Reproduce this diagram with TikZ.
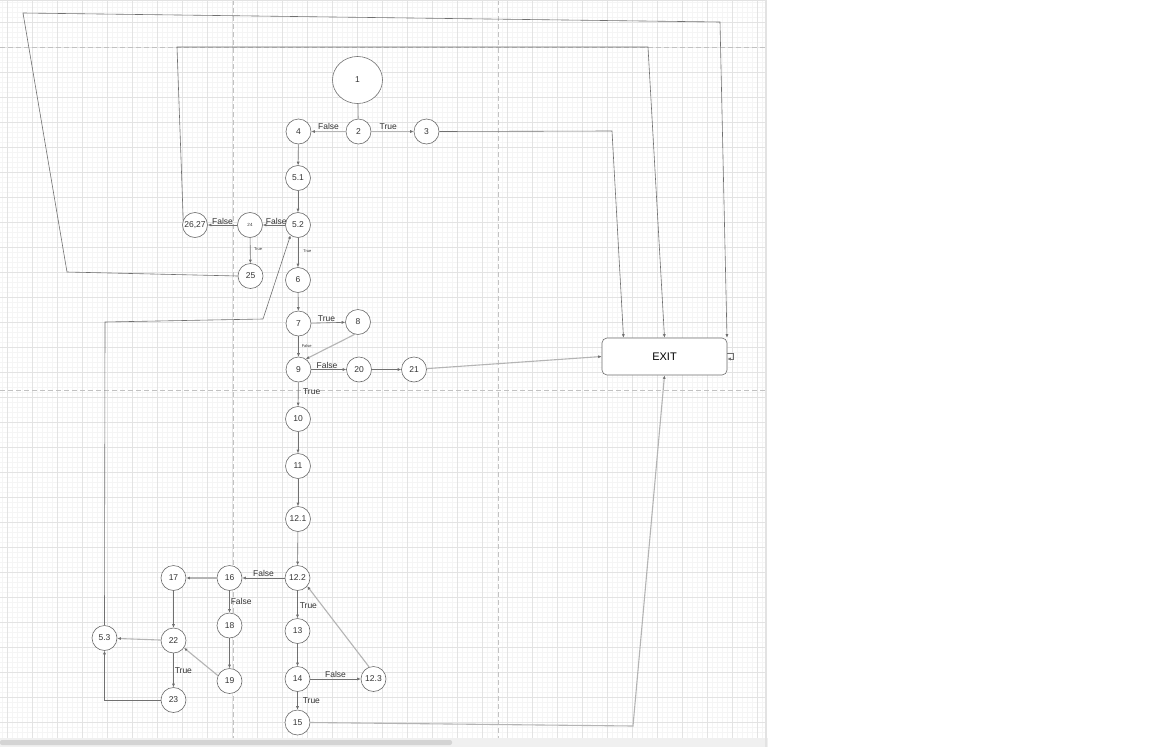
\documentclass[tikz,border=0pt]{standalone}
\usepackage{fontspec}
\setmainfont{Liberation Sans}
\usetikzlibrary{arrows.meta,shapes.geometric,calc}
\definecolor{gmin}{HTML}{F5F5F5}
\definecolor{gmaj}{HTML}{E3E3E3}
\definecolor{pbreak}{HTML}{C2C2C2}
\definecolor{edgedark}{HTML}{707070}
\definecolor{edgelight}{HTML}{B4B4B4}
\definecolor{nodeline}{HTML}{6E6E6E}
\definecolor{txt}{HTML}{333333}
\definecolor{scrollc}{HTML}{D4D4D4}
\definecolor{stripc}{HTML}{F0F0F0}
\begin{document}
\begin{tikzpicture}[x=1pt,y=-1pt,
  circ/.style={circle,draw=nodeline,line width=0.6pt,fill=white,minimum size=25pt,inner sep=0pt,
    font=\fontsize{8.5}{8.5}\selectfont,text=txt},
  bignode/.style={ellipse,draw=nodeline,line width=0.6pt,fill=white,minimum width=50pt,minimum height=47pt,
    inner sep=0pt,font=\fontsize{8.5}{8.5}\selectfont,text=txt},
  exitbox/.style={rectangle,rounded corners=5pt,draw=nodeline,line width=0.6pt,fill=white,
    minimum width=125pt,minimum height=37pt,font=\fontsize{11}{11}\selectfont,text=black},
  conn/.style={draw=edgedark,line width=0.6pt,-{Latex[length=3.5pt,width=3pt]}},
  connl/.style={draw=edgelight,line width=1.1pt,-{Latex[length=3.5pt,width=3pt,color=edgedark]}},
  lbl/.style={font=\fontsize{8.5}{8.5}\selectfont,text=txt,inner sep=1pt},
  tiny/.style={font=\fontsize{4}{4}\selectfont,text=txt,inner sep=0.5pt},
]
\useasboundingbox (0,0) rectangle (1152,747);
\fill[white] (0,0) rectangle (1152,747);
% grid
\foreach \x in {2.3,7.3,...,764} \draw[gmin,line width=0.5pt] (\x,0) -- (\x,738);
\foreach \y in {2.3,7.3,...,737} \draw[gmin,line width=0.5pt] (0,\y) -- (765,\y);
\foreach \x in {7.3,32.3,...,764} \draw[gmaj,line width=0.6pt] (\x,0) -- (\x,738);
\foreach \y in {22.3,47.3,...,737} \draw[gmaj,line width=0.6pt] (0,\y) -- (765,\y);
% page breaks
\draw[pbreak,line width=0.7pt,dash pattern=on 5pt off 3pt] (233,0) -- (233,738);
\draw[pbreak,line width=0.7pt,dash pattern=on 5pt off 3pt] (498,0) -- (498,738);
\draw[pbreak,line width=0.7pt,dash pattern=on 5pt off 3pt] (0,47) -- (765,47);
\draw[pbreak,line width=0.7pt,dash pattern=on 5pt off 3pt] (0,390) -- (765,390);
% frame bits
\fill[stripc] (0,738) rectangle (768,747);
\fill[scrollc,rounded corners=2pt] (0,740) rectangle (452,745);
\fill[gmaj] (765,0) rectangle (767,747);
\draw[gmaj,line width=0.6pt] (0,0.3) -- (765,0.3);

% nodes
\node[bignode] (n1) at (357.5,80) {1};
\node[circ] (n2) at (358.5,131.5) {2};
\node[circ] (n4) at (298.5,131.5) {4};
\node[circ] (n3) at (426.5,131.5) {3};
\node[circ] (n51) at (298,178) {5.1};
\node[circ] (n52) at (298,225) {5.2};
\node[circ,font=\fontsize{4.5}{4.5}\selectfont] (n24) at (250,225) {24};
\node[circ] (n2627) at (195,225) {26,27};
\node[circ] (n25) at (250.5,276) {25};
\node[circ] (n6) at (298,280) {6};
\node[circ] (n7) at (298.5,323.5) {7};
\node[circ] (n8) at (358,322) {8};
\node[circ] (n9) at (298.5,369.5) {9};
\node[circ] (n20) at (359,369.5) {20};
\node[circ] (n21) at (414,369.5) {21};
\node[circ] (n10) at (298,419) {10};
\node[circ] (n11) at (298,466) {11};
\node[circ] (n121) at (298,519) {12.1};
\node[circ] (n122) at (297.5,578) {12.2};
\node[circ] (n16) at (229.5,578) {16};
\node[circ] (n17) at (173.5,578) {17};
\node[circ] (n18) at (229.5,625.5) {18};
\node[circ] (n22) at (173.5,640.5) {22};
\node[circ] (n53) at (104.5,638) {5.3};
\node[circ] (n19) at (229.5,681) {19};
\node[circ] (n23) at (173.5,700) {23};
\node[circ] (n13) at (297.5,631) {13};
\node[circ] (n14) at (297.5,679) {14};
\node[circ] (n123) at (373.5,679) {12.3};
\node[circ] (n15) at (297.5,722.5) {15};
\node[exitbox] (exit) at (664.5,356.5) {EXIT};

% connectors
\draw[draw=edgelight,line width=1.1pt] (n1) -- (n2);
\draw[connl] (n2) -- (n4) node[lbl,midway,above] {False};
\draw[connl] (n2) -- (n3) node[lbl,pos=0.4,above] {True};
\draw[conn] (n4) -- (n51);
\draw[conn] (n51) -- (n52);
\draw[conn] (n52) -- (n24) node[lbl,pos=0.4,above=-1pt] {False};
\draw[conn] (n24) -- (n2627) node[lbl,midway,above=-1pt] {False};
\draw[conn] (n24) -- (n25) node[tiny,pos=0.45,right=3pt] {True};
\draw[conn] (n52) -- (n6) node[tiny,pos=0.45,right=4.5pt] {True};
\draw[conn] (n6) -- (n7);
\draw[conn] (n7) -- (n8) node[lbl,pos=0.45,above] {True};
\draw[conn] (n7) -- (n9) node[tiny,midway,right=2.5pt] {False};
\draw[connl] (n8.255) -- (n9.55);
\draw[conn] (n9) -- (n20) node[lbl,pos=0.45,above] {False};
\draw[conn] (n20) -- (n21);
\draw[connl] (n21) -- (exit.west);
\draw[conn] (n9) -- (n10) node[lbl,pos=0.4,right=3.5pt] {True};
\draw[conn] (n10) -- (n11);
\draw[conn] (n11) -- (n121);
\draw[conn] (n121) -- (n122);
\draw[conn] (n122) -- (n16) node[lbl,midway,above] {False};
\draw[connl] (n16) -- (n17);
\draw[conn] (n16) -- (n18) node[lbl,midway,right=0pt] {False};
\draw[conn] (n18) -- (n19);
\draw[conn] (n17) -- (n22);
\draw[connl] (n19.155) -- (n22.-35);
\draw[connl] (n22) -- (n53);
\draw[conn] (n22) -- (n23) node[lbl,midway,right=0pt] {True};
\draw[conn] (n23.west) -| (n53.south);
\draw[conn] (n53.north) -- (105,322) -- (263,319) -- (n52.234);
\draw[conn] (n122) -- (n13) node[lbl,pos=0.55,right=1pt] {True};
\draw[conn] (n13) -- (n14);
\draw[conn] (n14) -- (n123) node[lbl,midway,above] {False};
\draw[connl] (n123.110) -- (n122.-40);
\draw[conn] (n14) -- (n15) node[lbl,midway,right=4pt] {True};
\draw[connl] (n15.east) -- (633,726) -- (exit.south);
\draw[conn] (n3.east) -- (612,131) -- ([xshift=-41pt]exit.north);
\draw[conn] (n2627.157) -- (177,47) -- (648,47) -- (exit.north);
\draw[conn] (n25.west) -- (67,272) -- (23,13) -- (720,22) -- ([xshift=-0.3pt]exit.north east);
\draw[conn] ([yshift=3.5pt]exit.east) -- ++(6,0) -- ++(0,6) -- ([yshift=-2.5pt]exit.east);
\end{tikzpicture}
\end{document}
